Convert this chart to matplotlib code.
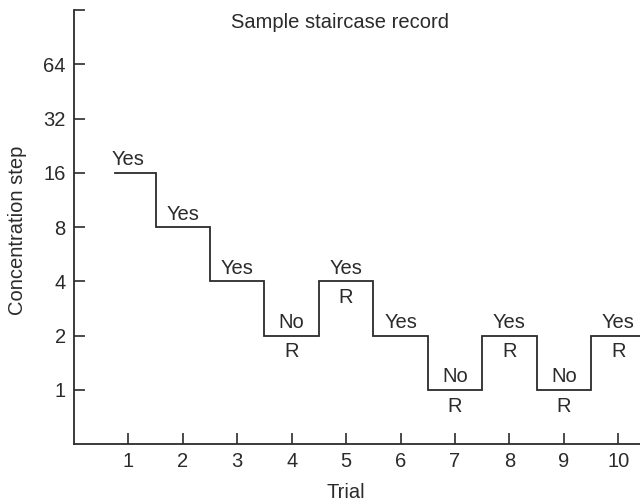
import matplotlib.pyplot as plt
from matplotlib.ticker import FixedLocator, NullFormatter

plt.rcParams['font.family'] = ['Liberation Sans', 'DejaVu Sans']
plt.rcParams['font.size'] = 14.5

trials = [1, 2, 3, 4, 5, 6, 7, 8, 9, 10]
steps = [16, 8, 4, 2, 4, 2, 1, 2, 1, 2]
answers = ['Yes', 'Yes', 'Yes', 'No', 'Yes', 'Yes', 'No', 'Yes', 'No', 'Yes']
reversal = [False, False, False, True, True, False, True, True, True, True]
ytick_vals = [1, 2, 4, 8, 16, 32, 64]

ink = '#2b2b2b'

fig = plt.figure(figsize=(6.4, 5.04), dpi=100)
ax = fig.add_axes([0.1156, 0.119, 0.8844, 0.861])

# staircase: each trial is a flat segment, joined by vertical jumps halfway between trials
xs = [trials[0] - 0.25]
ys = [steps[0]]
for i in range(len(trials)):
    right = trials[i] + 0.5
    xs.append(right)
    ys.append(steps[i])
    if i + 1 < len(trials):
        xs.append(right)
        ys.append(steps[i + 1])
ax.plot(xs, ys, color=ink, lw=1.3, solid_joinstyle='miter')

for t, s, a, r in zip(trials, steps, answers, reversal):
    ax.annotate(a, (t, s), xytext=(0, 2.5), textcoords='offset points',
                ha='center', va='bottom', color=ink)
    if r:
        ax.annotate('R', (t, s), xytext=(0, -5), textcoords='offset points',
                    ha='center', va='top', color=ink)

ax.set_yscale('log', base=2)
ax.set_ylim(0.5, 128)
ax.set_xlim(0, 10.4)
ax.yaxis.set_major_locator(FixedLocator(ytick_vals))
ax.set_yticklabels([str(v) for v in ytick_vals])
ax.yaxis.set_minor_locator(FixedLocator([128]))
ax.yaxis.set_minor_formatter(NullFormatter())
ax.set_xticks(trials)

ax.tick_params(which='both', direction='in', length=8, width=1.2, color=ink,
               labelcolor=ink, pad=6)
for side in ['top', 'right']:
    ax.spines[side].set_visible(False)
for side in ['left', 'bottom']:
    ax.spines[side].set_color(ink)
    ax.spines[side].set_linewidth(1.3)

ax.text(0.47, 0.972, 'Sample staircase record', transform=ax.transAxes,
        ha='center', va='center', color=ink)
fig.text(346 / 640, 1 - 493 / 504, 'Trial', ha='center', va='center', color=ink)
fig.text(18 / 640, 1 - 230 / 504, 'Concentration step', rotation=90,
         ha='center', va='center', color=ink)

fig.savefig('out.png', dpi=100)
